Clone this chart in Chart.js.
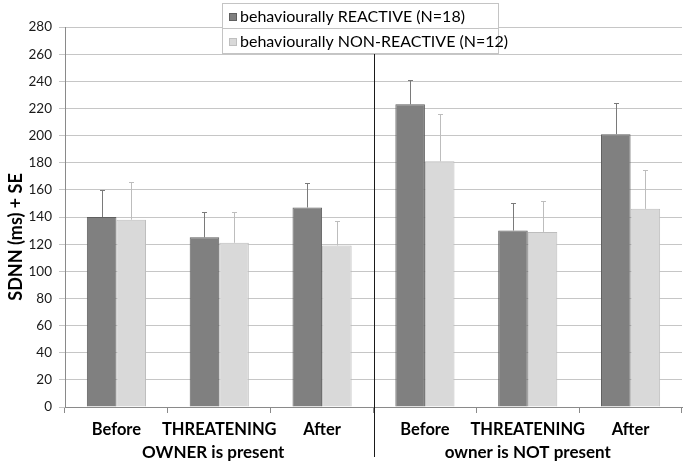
<!DOCTYPE html>
<html>
<head>
<meta charset="utf-8">
<script src="https://cdn.jsdelivr.net/npm/chart.js@4.4.1/dist/chart.umd.min.js"></script>
<style>
  html, body { margin: 0; padding: 0; background: #fff; }
  #wrap { width: 686px; height: 467px; position: relative; }
</style>
</head>
<body>
<div id="wrap"><canvas id="sdnnChart" width="686" height="467"></canvas></div>
<script>
const categories = ["Before", "THREATENING", "After", "Before", "THREATENING", "After"];
const groups = ["OWNER is present", "owner is NOT present"];
const seriesNames = ["behaviourally REACTIVE (N=18)", "behaviourally NON-REACTIVE (N=12)"];
const reactive = [140, 125, 147, 223, 130, 201];
const reactiveSE = [20, 19, 18, 18, 20, 23];
const nonReactive = [138, 121, 119, 181, 129, 146];
const nonReactiveSE = [28, 23, 18, 35, 23, 29];
const yTicks = [0, 20, 40, 60, 80, 100, 120, 140, 160, 180, 200, 220, 240, 260, 280];
const yTitle = "SDNN (ms) + SE";

const FONT = "Lato, 'Open Sans', sans-serif";

// error bars, group divider, group labels, y title
const extras = {
  id: "extras",
  afterDatasetsDraw(chart) {
    const ctx = chart.ctx;
    const y = chart.scales.y;
    const x = chart.scales.x;
    const errs = [reactiveSE, nonReactiveSE];
    const errColors = ["#7a7a7a", "#bdbdbd"];
    ctx.save();
    chart.data.datasets.forEach((ds, di) => {
      const meta = chart.getDatasetMeta(di);
      meta.data.forEach((bar, i) => {
        const top = y.getPixelForValue(ds.data[i] + errs[di][i]);
        ctx.strokeStyle = errColors[di];
        ctx.lineWidth = 1;
        ctx.beginPath();
        ctx.moveTo(Math.round(bar.x) + 0.5, bar.y);
        ctx.lineTo(Math.round(bar.x) + 0.5, Math.round(top) + 0.5);
        ctx.moveTo(Math.round(bar.x) - 2, Math.round(top) + 0.5);
        ctx.lineTo(Math.round(bar.x) + 3, Math.round(top) + 0.5);
        ctx.stroke();
      });
    });

    // divider between the two groups
    const xd = Math.round((x.getPixelForValue(2) + x.getPixelForValue(3)) / 2) + 0.5;
    ctx.strokeStyle = "#1a1a1a";
    ctx.lineWidth = 1;
    ctx.beginPath();
    ctx.moveTo(xd, 53);
    ctx.lineTo(xd, 457);
    ctx.stroke();

    // group labels
    ctx.fillStyle = "#000";
    ctx.font = "bold 17px " + FONT;
    ctx.textAlign = "center";
    ctx.textBaseline = "middle";
    groups.forEach((g, gi) => {
      const cx = (x.getPixelForValue(gi * 3) + x.getPixelForValue(gi * 3 + 2)) / 2;
      ctx.fillText(g, cx - (gi === 0 ? 6 : 0), 453);
    });

    // y title
    ctx.translate(16, 237);
    ctx.rotate(-Math.PI / 2);
    ctx.font = "bold 18px " + FONT;
    ctx.fillText(yTitle, 0, 0);
    ctx.restore();
  },
  afterDraw(chart) {
    // legend box sitting over the top gridlines
    const ctx = chart.ctx;
    const fills = ["#808080", "#d9d9d9"];
    const borders = ["#5f5f5f", "#bfbfbf"];
    ctx.save();
    const left = 222, right = 498, rowH = 25, top = 3;
    ctx.fillStyle = "#fff";
    ctx.fillRect(left, top, right - left, rowH * 2);
    ctx.strokeStyle = "#c4c4c4";
    ctx.lineWidth = 1;
    ctx.strokeRect(left + 0.5, top + 0.5, right - left, rowH);
    ctx.strokeRect(left + 0.5, top + rowH + 0.5, right - left, rowH);
    ctx.font = "16px " + FONT;
    ctx.textAlign = "left";
    ctx.textBaseline = "middle";
    seriesNames.forEach((name, i) => {
      const cy = top + rowH * i + rowH / 2 + 1;
      ctx.fillStyle = fills[i];
      ctx.fillRect(229, Math.round(cy - 4), 8, 8);
      ctx.strokeStyle = borders[i];
      ctx.strokeRect(229.5, Math.round(cy - 4) + 0.5, 7, 7);
      ctx.fillStyle = "#000";
      ctx.fillText(name, 240, cy);
    });
    ctx.restore();
  }
};

new Chart(document.getElementById("sdnnChart"), {
  type: "bar",
  data: {
    labels: categories,
    datasets: [
      {
        label: seriesNames[0],
        data: reactive,
        backgroundColor: "#808080",
        borderColor: "#5f5f5f",
        borderWidth: 1,
        categoryPercentage: 0.575,
        barPercentage: 1.0,
      },
      {
        label: seriesNames[1],
        data: nonReactive,
        backgroundColor: "#d9d9d9",
        borderColor: "#bdbdbd",
        borderWidth: 1,
        categoryPercentage: 0.575,
        barPercentage: 1.0,
      },
    ],
  },
  options: {
    responsive: false,
    animation: false,
    devicePixelRatio: 1,
    layout: { padding: { top: 27, right: 4, bottom: 25, left: 10 } },
    scales: {
      x: {
        grid: { display: true, drawOnChartArea: false, tickLength: 6, color: "#8a8a8a" },
        border: { color: "#8a8a8a" },
        ticks: {
          color: "#000", padding: 7, autoSkip: false, maxRotation: 0, minRotation: 0,
          font: { family: FONT, size: 16.5, weight: "bold" },
        },
        afterFit: (s) => { s.height = 35; },
      },
      y: {
        min: 0,
        max: 280,
        afterBuildTicks: (s) => { s.ticks = yTicks.map((v) => ({ value: v })); },
        grid: { color: "#c6c6c6", tickLength: 6 },
        border: { color: "#8a8a8a" },
        ticks: { color: "#1a1a1a", padding: 7, font: { family: FONT, size: 13.5 } },
        afterFit: (s) => { s.width = 55; },
      },
    },
    plugins: {
      legend: { display: false },
      tooltip: { enabled: false },
    },
  },
  plugins: [extras],
});
</script>
</body>
</html>
